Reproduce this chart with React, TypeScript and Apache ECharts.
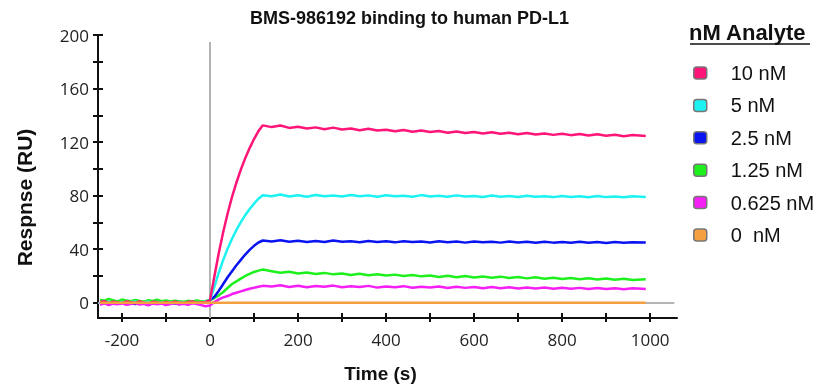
import React, { useEffect, useRef } from "react";
import * as echarts from "echarts";

// time (s)
const TIME = [
  -250, -240, -230, -220, -210, -200, -190, -180, -170, -160, -150, -140, -130, -120, -110, -100, -90, -80, -70, -60,
  -50, -40, -30, -20, -10, 0,
  10, 20, 30, 40, 50, 60, 70, 80, 90, 100, 110, 120,
  140, 160, 180, 200, 220, 240, 260, 280, 300, 320, 340, 360, 380, 400, 420, 440, 460, 480, 500, 520, 540, 560,
  580, 600, 620, 640, 660, 680, 700, 720, 740, 760, 780, 800, 820, 840, 860, 880, 900, 920, 940, 960, 990,
];

const NM_10 = [
  0.5, 1.2, -0.3, 0.8, 0.2, -0.5, 1, 0.3, -0.2, 0.9, 0.1, -0.6, 0.7, 0.4, -0.3, 0.6, -0.1, 0.8, 0.2, -0.4, 0.5, 0.9, -0.2, 0.3, 0.6, 2,
  19.8, 37.3, 52.9, 66.7, 79, 89.8, 99.4, 108, 115.5, 122.3, 128.2, 132.5,
  131.2, 132.4, 130.6, 131.5, 130.2, 131, 129.6, 130.8, 129.4, 130.1, 128.8, 129.9, 128.6, 129.3, 128.1, 129, 127.8, 128.7, 127.5, 128.3,
  127, 127.9, 126.8, 127.6, 126.5, 127.4, 126.2, 127, 125.9, 126.8, 125.7, 126.5, 125.4, 126.3, 125.2, 126, 124.9, 125.8, 124.7, 125.5,
  124.4, 125.3, 124.5,
];
const NM_5 = [
  0.2, -0.5, 0.8, 0.1, -0.3, 0.6, -0.2, 0.4, 0.9, -0.4, 0.3, 0.7, -0.1, 0.5, 0.2, -0.6, 0.4, 0.1, 0.8, -0.3, 0.2, 0.6, -0.1, 0.4, 0.9, 2,
  12, 22.6, 32, 40.4, 47.8, 54.4, 60.2, 65.4, 70, 74, 77.7, 80.3,
  79.6, 80.8, 79.4, 80.3, 79.2, 80.5, 79.5, 80.1, 79.3, 80.4, 79.6, 80.2, 79.1, 80.3, 79.5, 80, 79.2, 80.4, 79.4, 79.9,
  79.1, 80.2, 79.3, 79.8, 79, 80.1, 79.2, 79.7, 79, 80, 79.1, 79.6, 78.9, 79.8, 79, 79.5, 78.8, 79.7, 78.9, 79.4,
  78.8, 79.5, 79,
];
const NM_2_5 = [
  -0.5, 0.3, -1.2, -0.2, -0.8, 0.4, -1, -0.3, -0.9, 0.2, -0.7, -1.3, -0.1, -0.8, -0.4, -1.1, 0.1, -0.6, -1, -0.2, -0.7, 0.3, -0.5, 0.1, 0.6, 2,
  4.5, 9, 14, 19, 23.5, 28, 32, 36, 39.5, 42.5, 45, 46.5,
  45.8, 46.6, 45.5, 46.3, 45.4, 46.1, 45.3, 46.5, 45.6, 46, 45.2, 46.2, 45.4, 45.9, 45.1, 46, 45.3, 45.8, 45, 45.9,
  45.2, 45.7, 44.9, 45.8, 45.1, 45.6, 44.9, 45.7, 45, 45.5, 44.8, 45.6, 44.9, 45.4, 44.8, 45.5, 44.9, 45.3, 44.7, 45.4,
  44.8, 45.2, 45,
];
const NM_1_25 = [
  2.2, 1.5, 2.8, 1.8, 1, 2.4, 1.6, 1.2, 2, 1.4, 0.8, 1.9, 1.3, 2.2, 1.1, 1.7, 0.9, 1.5, 1.2, 0.7, 1.4, 1, 1.6, 0.9, 1.3, 2,
  3.5, 5.5, 8, 11, 14, 16, 18, 20, 21.5, 23, 24, 24.8,
  23.6, 22.4, 23.2, 21.8, 22.6, 21.5, 22.3, 21.2, 21.9, 20.8, 21.6, 20.5, 21.3, 20.3, 21, 19.9, 20.7, 19.7, 20.4, 19.3,
  20.2, 19.1, 19.9, 18.9, 19.6, 18.7, 19.5, 18.5, 19.2, 18.2, 19, 18, 18.7, 17.8, 18.5, 17.6, 18.3, 17.4, 18.1, 17.2,
  17.9, 17, 17.6,
];
const NM_0_625 = [
  -1.5, -0.4, -1.8, -0.7, -1.2, -0.2, -1.6, -0.9, -0.3, -1.4, -0.8, -1.9, -0.5, -1.1, -0.6, -1.7, -0.9, -0.3, -1.3, -0.7, -1.5, -0.4, -1, -1.8, -2.6, -2,
  0.5, 2.5, 4, 5, 6.5, 7.5, 8.5, 9.5, 10.5, 11.2, 12, 12.6,
  12.2, 13, 11.8, 12.7, 11.6, 12.5, 11.9, 12.8, 11.5, 12.4, 11.7, 12.6, 11.3, 12.2, 11.5, 12.4, 11.2, 12, 11.3, 12.1,
  11, 11.9, 11.1, 11.8, 10.8, 11.7, 10.9, 11.5, 10.6, 11.4, 10.7, 11.3, 10.4, 11.2, 10.5, 11.1, 10.2, 11, 10.3, 10.9,
  10.1, 10.8, 10.3,
];
const ZERO_TIME = [-250, 0, 990];
const NM_0 = [0, 0, 0];

const SERIES_NAMES = ["10 nM", "5 nM", "2.5 nM", "1.25 nM", "0.625 nM", "0  nM"];
const SERIES_COLORS = ["#ff1477", "#1cf2f2", "#0a14f0", "#1ef01e", "#f51ef5", "#f5a040"];

const X_TICKS = [-200, -100, 0, 100, 200, 300, 400, 500, 600, 700, 800, 900, 1000];
const X_LABELS = [-200, 0, 200, 400, 600, 800, 1000];
const Y_TICKS = [0, 20, 40, 60, 80, 100, 120, 140, 160, 180, 200];
const Y_LABELS = [0, 40, 80, 120, 160, 200];

const X_MIN = -254.5;
const X_MAX = 1061;
const Y_MIN = -11.4;
const Y_MAX = 200;

export default function App() {
  const ref = useRef<HTMLDivElement>(null);
  useEffect(() => {
    const chart = echarts.init(ref.current!, null, { renderer: "svg" });
    const axisColor = "#111";
    const pairs = (vals: number[], times: number[]) => times.map((t, i) => [t, vals[i]]);
    const mk = (idx: number, vals: number[], times: number[]) => ({
      name: SERIES_NAMES[idx],
      type: "line",
      data: pairs(vals, times),
      showSymbol: false,
      symbol: "none",
      lineStyle: { color: SERIES_COLORS[idx], width: 2.5 },
      itemStyle: { color: SERIES_COLORS[idx] },
      xAxisIndex: 0,
      yAxisIndex: 0,
      z: 3,
    });
    const option: any = {
      animation: false,
      title: {
        text: "BMS-986192 binding to human PD-L1",
        left: "center",
        top: 9,
        padding: [0, 44, 0, 0],
        textStyle: { fontSize: 18, fontWeight: "bold", color: "#111", fontFamily: "Liberation Sans, Arial" },
      },
      grid: { left: 98, right: 142, top: 35, bottom: 74 },
      legend: {
        orient: "vertical",
        left: 688,
        top: 58,
        itemWidth: 13,
        itemHeight: 12,
        itemGap: 12.4,
        icon: "roundRect",
        selectedMode: false,
        data: SERIES_NAMES,
        itemStyle: { borderColor: "#777", borderWidth: 1.5 },
        textStyle: { fontSize: 20, color: "#111", fontFamily: "Liberation Sans, Arial", padding: [0, 0, 0, 19], lineHeight: 20 },
      },
      xAxis: [
        {
          type: "value",
          min: X_MIN,
          max: X_MAX,
          position: "bottom",
          axisLine: { show: true, onZero: false, lineStyle: { color: axisColor, width: 2 } },
          axisTick: { show: true, customValues: X_TICKS, length: 4, lineStyle: { color: axisColor, width: 2 } },
          axisLabel: {
            customValues: X_LABELS,
            margin: 13,
            fontSize: 17,
            color: "#222",
            fontFamily: "Open Sans",
            formatter: (v: number) => String(v),
          },
          splitLine: { show: false },
          name: "Time (s)",
          nameLocation: "middle",
          nameGap: 46,
          nameTextStyle: { fontSize: 19, fontWeight: "bold", color: "#111", fontFamily: "Liberation Sans, Arial", padding: [0, 14, 0, 0] },
        },
        {
          type: "value",
          min: X_MIN,
          max: X_MAX,
          position: "bottom",
          axisLine: { show: false, onZero: false },
          axisTick: { show: true, inside: true, customValues: X_TICKS, length: 5, lineStyle: { color: axisColor, width: 2 } },
          axisLabel: { show: false },
          splitLine: { show: false },
        },
      ],
      yAxis: [
        {
          type: "value",
          min: Y_MIN,
          max: Y_MAX,
          position: "left",
          axisLine: { show: true, onZero: false, lineStyle: { color: axisColor, width: 2 } },
          axisTick: { show: true, customValues: Y_TICKS, length: 5, lineStyle: { color: axisColor, width: 2 } },
          axisLabel: { customValues: Y_LABELS, margin: 9, fontSize: 17, color: "#222", fontFamily: "Open Sans", formatter: (v: number) => String(v) },
          splitLine: { show: false },
          name: "Respnse (RU)",
          nameLocation: "middle",
          nameGap: 63,
          nameTextStyle: { fontSize: 21, fontWeight: "bold", color: "#111", fontFamily: "Liberation Sans, Arial", padding: [0, 42, 0, 0] },
        },
        {
          type: "value",
          min: Y_MIN,
          max: Y_MAX,
          position: "left",
          axisLine: { show: false, onZero: false },
          axisTick: { show: true, inside: true, customValues: Y_TICKS, length: 5, lineStyle: { color: axisColor, width: 2 } },
          axisLabel: { show: false },
          splitLine: { show: false },
        },
      ],
      graphic: [
        {
          type: "text",
          left: 689,
          top: 21,
          style: { text: "nM Analyte", fontSize: 22, fontWeight: "bold", fill: "#111", fontFamily: "Liberation Sans, Arial" },
        },
        {
          type: "line",
          shape: { x1: 690, y1: 44, x2: 810, y2: 44 },
          style: { stroke: "#111", lineWidth: 1.5 },
        },
      ],
      series: [
        {
          name: "ref",
          type: "line",
          data: [[0, 0]],
          symbol: "none",
          lineStyle: { opacity: 0 },
          z: 1,
          markLine: {
            silent: true,
            z: 1,
            symbol: "none",
            label: { show: false },
            lineStyle: { color: "#b4b4b4", width: 2, type: "solid" },
            data: [
              [{ coord: [0, Y_MIN] }, { coord: [0, 194.8] }],
              [{ coord: [X_MIN, 0] }, { coord: [1055, 0] }],
            ],
          },
        },
        mk(3, NM_1_25, TIME),
        mk(2, NM_2_5, TIME),
        mk(1, NM_5, TIME),
        mk(0, NM_10, TIME),
        mk(4, NM_0_625, TIME),
        mk(5, NM_0, ZERO_TIME),
      ],
    };
    chart.setOption(option);
    return () => chart.dispose();
  }, []);
  return <div ref={ref} style={{ position: "fixed", left: 0, top: 0, width: 819, height: 392 }} />;
}
